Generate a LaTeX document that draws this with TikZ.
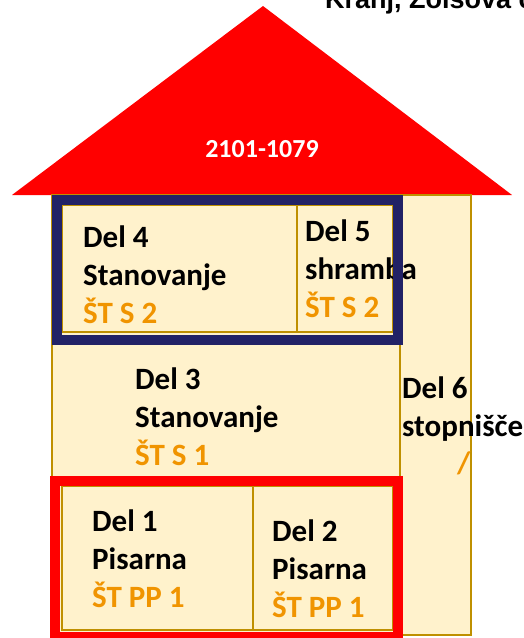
\documentclass[tikz,border=0pt]{standalone}
\usepackage{fontspec}
\setmainfont{Carlito}
\newfontfamily\arialfont{Liberation Sans}

\definecolor{roofred}{RGB}{255,0,0}
\definecolor{wallfill}{RGB}{255,242,204}
\definecolor{walldraw}{RGB}{191,144,0}
\definecolor{framblue}{RGB}{34,34,102}
\definecolor{staorange}{RGB}{240,148,0}

\tikzset{
  room/.style={fill=wallfill, draw=walldraw, line width=2pt},
  label/.style={anchor=base west, inner sep=0pt, align=left,
    font=\bfseries\fontsize{31}{38}\selectfont},
  frame/.style={line width=10pt}
}
\newcommand{\st}[1]{\textcolor{staorange}{#1}}

\begin{document}
\begin{tikzpicture}[x=1pt,y=-1pt]

\useasboundingbox (0,0) rectangle (524,638);

% Streha
\fill[roofred] (12,195) -- (263,6) -- (512,195) -- cycle;
\node[anchor=base, inner sep=0pt, text=white, font=\bfseries\fontsize{26}{30}\selectfont]
  (parcela) at (262,157) {2101-1079};

\node[anchor=base west, inner sep=0pt, font=\arialfont\bfseries\fontsize{27}{30}\selectfont]
  (naslov) at (325,8) {Kranj, Zoisova cesta};

% Stopnisce in telo
\draw[room] (400,195) rectangle (471,635);
\draw[room] (52,195) rectangle (400,635);

% Prostori
\foreach \xa/\ya/\xb/\yb in {
62/205/297/332,
297/205/393/332,
62/486/253/630,
253/486/393/630
}
{
\draw[room] (\xa,\ya) rectangle (\xb,\yb);
}

% Napisi (sidro je na zadnji vrstici)
\node[label] (del4) at (83,323) {Del 4\\Stanovanje\\\st{ŠT S 2}};
\node[label] (del5) at (305,317) {Del 5\\shramba\\\st{ŠT S 2}};
\node[label] (del3) at (135,465) {Del 3\\Stanovanje\\\st{ŠT S 1}};
\node[label] (del6) at (402,436) {Del 6\\stopnišče};
\node[label, text=staorange] (del6st) at (457,473) {/};
\node[label] (del1) at (92,607) {Del 1\\Pisarna\\\st{ŠT PP 1}};
\node[label] (del2) at (272,617) {Del 2\\Pisarna\\\st{ŠT PP 1}};

% Okvirja
\draw[frame, framblue] (57,200) rectangle (398,340);
\draw[frame, roofred] (55,481) rectangle (398,637);

\end{tikzpicture}
\end{document}
